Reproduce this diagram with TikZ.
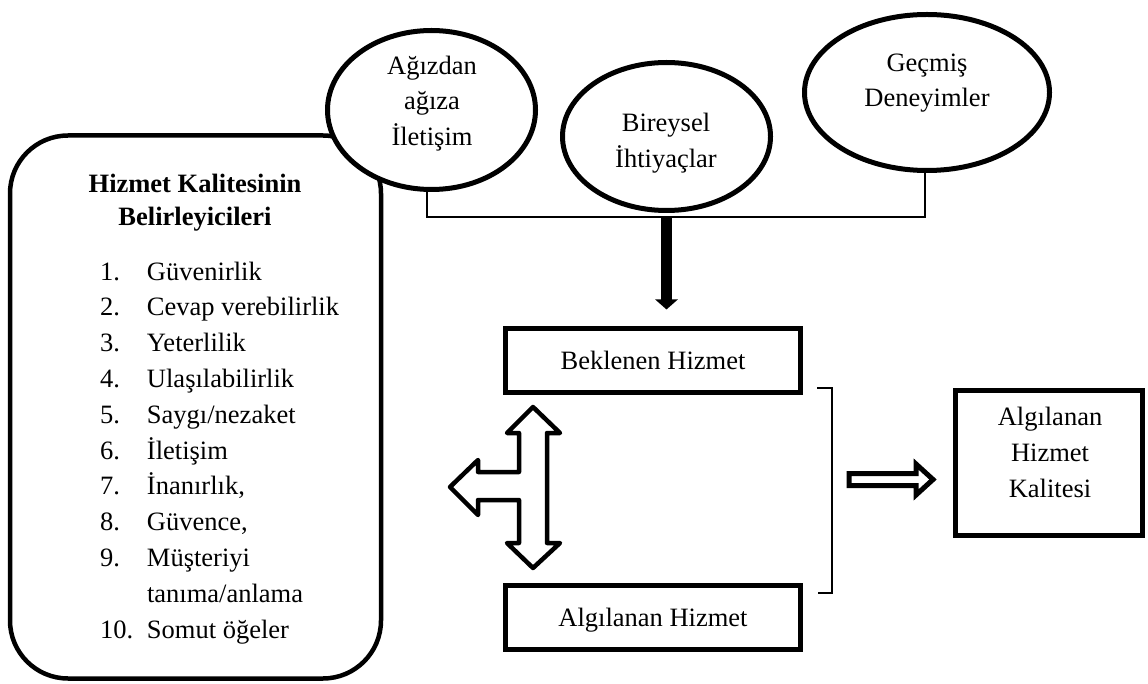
\documentclass[tikz,border=0pt]{standalone}
\usepackage{fontspec}
\setmainfont{Liberation Serif}
\usetikzlibrary{shapes.geometric,arrows.meta}
\begin{document}
\begin{tikzpicture}[x=1pt,y=-1pt,
  every node/.style={inner sep=0pt, outer sep=0pt},
  txt/.style={font=\fontsize{26.5}{35.8}\selectfont, align=center},
  oval/.style={draw, ellipse, line width=5pt, fill=white},
  sbox/.style={draw, rectangle, line width=5pt, fill=white, txt, text depth=0pt},
  bracketline/.style={line width=1.5pt},
  bigarrow/.style={line width=11pt, -{Triangle[length=10pt 0 0, width=22pt 0]}},
  blockarrow/.style={line width=4.5pt, fill=white, line join=round},
]
\useasboundingbox (0,0) rectangle (1148,684);

% panel listing the determinants of service quality
\node[draw, line width=4.5pt, rounded corners=58pt, minimum width=371pt, minimum height=543pt] (det) at (195.5,407) {};
\node[txt, font=\fontsize{26.5}{33}\selectfont\bfseries] (ttl) at (195,203) {Hizmet Kalitesinin\\Belirleyicileri};
\node[txt, anchor=north west, align=left] (lst) at (100,255) {%
  \begin{tabular}{@{}p{47pt}@{}l@{}}
  1. & Güvenirlik\\
  2. & Cevap verebilirlik\\
  3. & Yeterlilik\\
  4. & Ulaşılabilirlik\\
  5. & Saygı/nezaket\\
  6. & İletişim\\
  7. & İnanırlık,\\
  8. & Güvence,\\
  9. & Müşteriyi\\
     & tanıma/anlama\\
  10. & Somut öğeler
  \end{tabular}};

% sources of expectation
\node[oval, minimum width=208pt, minimum height=159pt] (e1) at (431.5,110) {};
\node[oval, minimum width=208pt, minimum height=148pt] (e2) at (666.5,136.5) {};
\node[oval, minimum width=245pt, minimum height=156pt] (e3) at (927,92.5) {};
\node[txt] (e1t) at (432,103.5) {Ağızdan\\ağıza\\İletişim};
\node[txt] (e2t) at (666,143) {Bireysel\\İhtiyaçlar};
\node[txt] (e3t) at (927,83) {Geçmiş\\Deneyimler};

% expected and perceived service
\node[sbox, minimum width=295pt, minimum height=64pt] (bek) at (653,360.5) {Beklenen Hizmet};
\node[sbox, minimum width=295pt, minimum height=64pt] (alg) at (653,617.5) {Algılanan Hizmet};
\node[draw, rectangle, line width=5.5pt, fill=white, minimum width=187pt, minimum height=145pt] (kal) at (1049,463) {};
\node[txt] (kalt) at (1050,452.5) {Algılanan\\Hizmet\\Kalitesi};

% bracket joining the three sources
\coordinate (bl) at (427,217);
\coordinate (br) at (925,217);
\coordinate (bm) at (e2.south |- bl);
\draw[bracketline] (e1.south -| bl) -- (bl) -- (br) -- (e3.south -| br);
\draw[bigarrow, shorten >=19pt] (bm) -- (bek.north -| bm);

% three-way hollow arrow
\draw[blockarrow] (533,407) -- (560,433) -- (547,433) -- (547,543) -- (560,543) -- (533,568)
  -- (507,543) -- (519,543) -- (519,500) -- (478,500) -- (478,515) -- (450,487)
  -- (478,460) -- (478,472) -- (519,472) -- (519,433) -- (507,433) -- cycle;

% bracket on the right of the two boxes
\draw[line width=2pt] (817,388) -- (832,388) -- (832,593) -- (818,593);

% hollow arrow towards perceived service quality
\draw[line width=5pt, fill=white] (849,473.5) -- (916,473.5) -- (916,464) -- (933,479.5)
  -- (916,495) -- (916,485.5) -- (849,485.5) -- cycle;
\end{tikzpicture}
\end{document}
